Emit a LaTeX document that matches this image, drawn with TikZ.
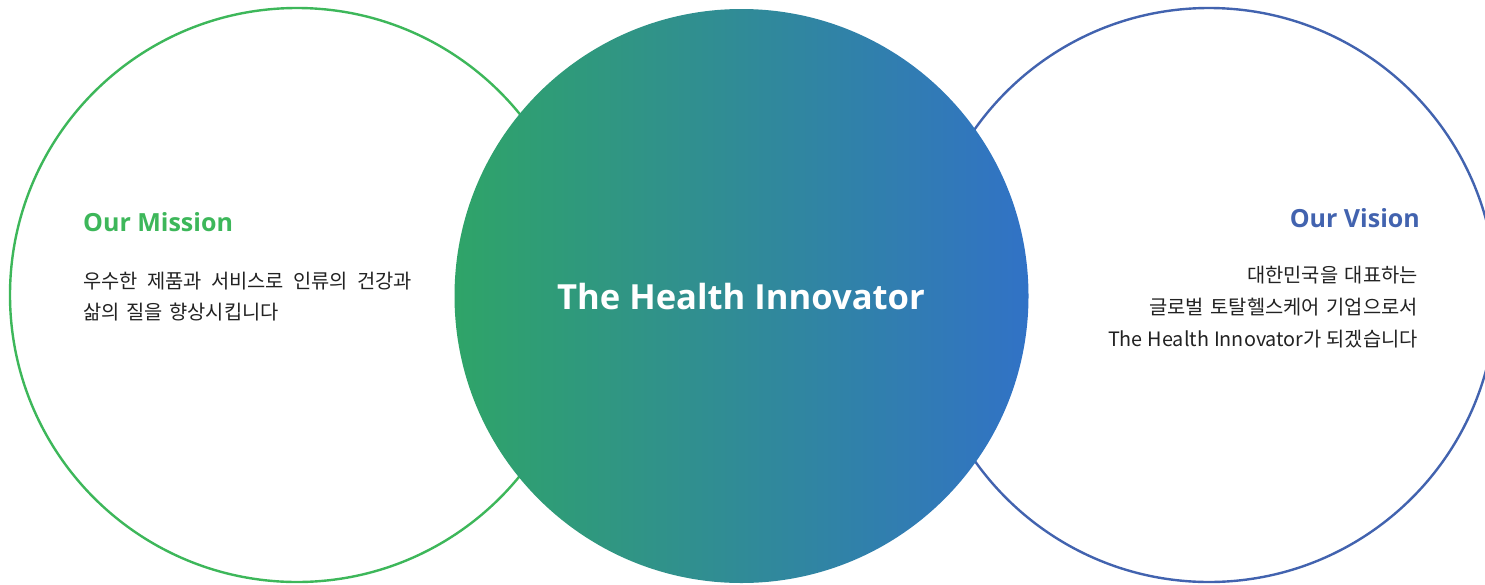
\documentclass[tikz,border=0pt]{standalone}
\usepackage{fontspec}
\setmainfont{Open Sans}
\newfontfamily\kr{Noto Sans CJK KR}
\newfontfamily\head{Open Sans}
\newcommand\krbody{\kr\fontsize{19.8}{23}\selectfont\spaceskip=0.34em\relax}
\definecolor{mgreen}{HTML}{3DB75A}
\definecolor{vblue}{HTML}{4263AF}
\definecolor{gleft}{HTML}{2FA468}
\definecolor{gright}{HTML}{3172C6}
\definecolor{bodytext}{HTML}{222222}
\tikzset{
  ring/.style={line width=2.4pt, fill=white},
  title/.style={font=\head\bfseries\fontsize{25}{29}\selectfont, inner sep=0pt},
  body/.style={font=\krbody, text=bodytext, inner sep=0pt},
}
\begin{document}
\begin{tikzpicture}[x=1pt,y=-1pt]
\useasboundingbox (0,0) rectangle (1485,584);
\clip (0,0) rectangle (1485,584);
\draw[ring, draw=mgreen] (297,295) circle (287);
\draw[ring, draw=vblue] (1209,295) circle (287);
\shade[left color=gleft, right color=gright] (741.5,296) circle (287);
\node[font=\head\bfseries\fontsize{34.6}{40}\selectfont, text=white, inner sep=0pt] (center) at (741,297) {The Health Innovator};
\node[title, text=mgreen, anchor=base west] (mt) at (83,231) {Our Mission};
\node[body, anchor=base west] (m1) at (83,288) {\spaceskip=0.47em\relax 우수한 제품과 서비스로 인류의 건강과};
\node[body, anchor=base west] (m2) at (83,319) {삶의 질을 향상시킵니다};
\node[title, text=vblue, anchor=base east] (vt) at (1420,227) {Our Vision};
\node[body, anchor=base east] (v1) at (1418,282) {대한민국을 대표하는};
\node[body, anchor=base east] (v2) at (1418,314) {글로벌 토탈헬스케어 기업으로서};
\node[body, anchor=base east] (v3) at (1418,346) {\spaceskip=0.25em\relax The Health Innovator가 되겠습니다};
\end{tikzpicture}
\end{document}
